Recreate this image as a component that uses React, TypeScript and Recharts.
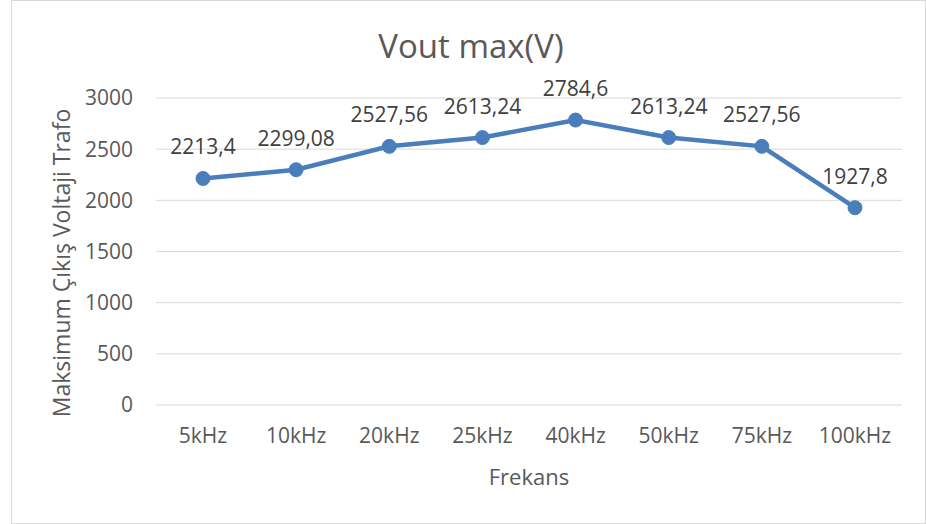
import { LineChart, Line, XAxis, YAxis, CartesianGrid, LabelList } from "recharts";

// values
const frequencies = ["5kHz", "10kHz", "20kHz", "25kHz", "40kHz", "50kHz", "75kHz", "100kHz"];
const voutMax = [2213.4, 2299.08, 2527.56, 2613.24, 2784.6, 2613.24, 2527.56, 1927.8];
const yTicks = [0, 500, 1000, 1500, 2000, 2500, 3000];

const data = frequencies.map((f, i) => ({ name: f, value: voutMax[i] }));

const TEXT = "#595959";
const LINE = "#4a7ebb";
const FONT = "'Open Sans', sans-serif";

// turkish decimal comma
const fmt = (v: any) => String(v).replace(".", ",");

const XLabel = (props: any) => {
  const { viewBox } = props;
  if (!viewBox) return null;
  return (
    <text
      x={viewBox.x + viewBox.width / 2}
      y={viewBox.y + 80}
      textAnchor="middle"
      fontSize={22}
      fill={TEXT}
      fontFamily={FONT}
    >
      Frekans
    </text>
  );
};

const YLabel = () => (
  <text
    x={58}
    y={262}
    transform="rotate(-90 58 262)"
    textAnchor="middle"
    fontSize={23}
    fill={TEXT}
    fontFamily={FONT}
  >
    Maksimum Çıkış Voltaji Trafo
  </text>
);

export default function App() {
  return (
    <div
      style={{
        position: "absolute",
        left: 0,
        top: 0,
        width: 926,
        height: 524,
        overflow: "hidden",
        background: "#fff",
        fontFamily: FONT,
      }}
    >
      <div
        style={{
          position: "absolute",
          left: 11,
          top: 0,
          width: 915,
          height: 524,
          boxSizing: "border-box",
          border: "1px solid #d9d9d9",
        }}
      >
        <div
          style={{
            position: "absolute",
            left: 0,
            top: 28,
            width: 918,
            textAlign: "center",
            fontSize: 33,
            lineHeight: "33px",
            color: TEXT,
          }}
        >
          Vout max(V)
        </div>
        <LineChart
          width={913}
          height={522}
          data={data}
          margin={{ top: 97, right: 23, bottom: 88, left: 0 }}
          style={{ fontFamily: FONT }}
        >
          <CartesianGrid vertical={false} stroke="#d9d9d9" strokeWidth={1} />
          <XAxis
            dataKey="name"
            height={30}
            padding={{ left: 47, right: 47 }}
            axisLine={false}
            tickLine={false}
            tickSize={0}
            tickMargin={23}
            tick={{ fontSize: 21, fill: TEXT }}
            label={<XLabel />}
          />
          <YAxis
            width={144}
            domain={[0, 3000]}
            ticks={yTicks}
            axisLine={false}
            tickLine={false}
            tickSize={0}
            tickMargin={23}
            tick={{ fontSize: 21, fill: TEXT }}
            label={<YLabel />}
          />
          <Line
            type="linear"
            dataKey="value"
            stroke={LINE}
            strokeWidth={4.5}
            dot={{ r: 7, fill: LINE, stroke: LINE, strokeWidth: 1 }}
            isAnimationActive={false}
          >
            <LabelList
              dataKey="value"
              position="top"
              offset={24}
              formatter={fmt}
              fontSize={21}
              fill="#404040"
            />
          </Line>
        </LineChart>
      </div>
    </div>
  );
}
